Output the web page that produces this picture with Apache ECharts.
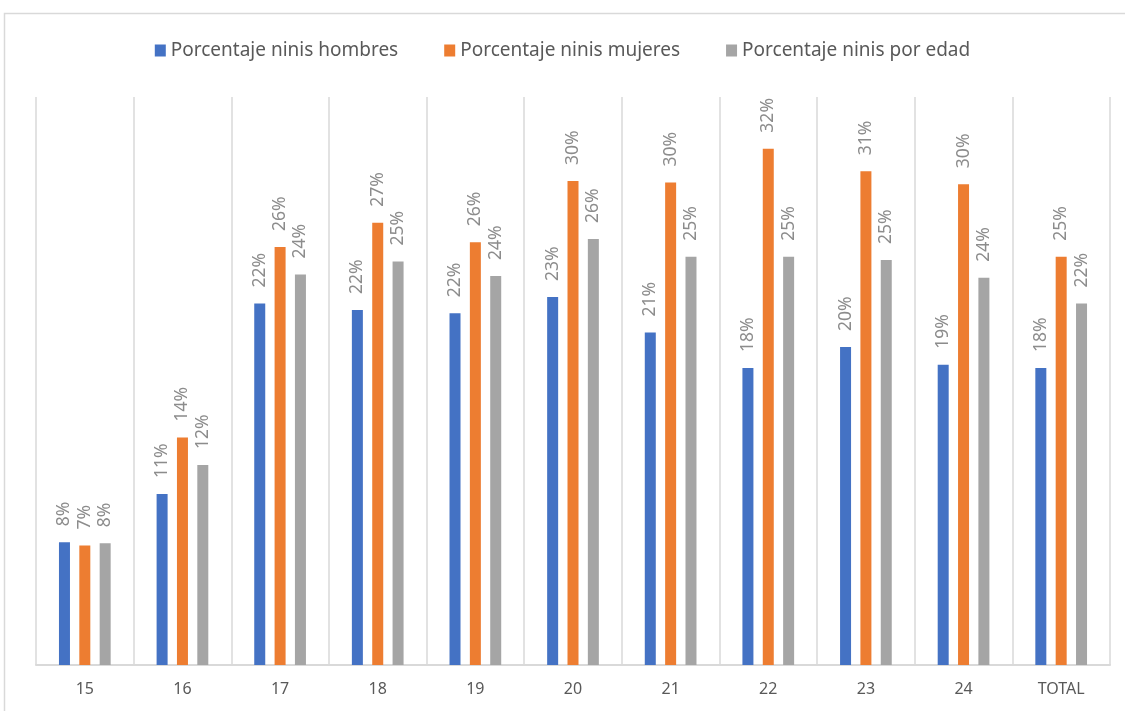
<!DOCTYPE html>
<html>
<head>
<meta charset="utf-8">
<script src="https://cdn.jsdelivr.net/npm/echarts@6/dist/echarts.min.js"></script>
<style>
html,body{margin:0;padding:0;background:#fff;}
#chart{width:1125px;height:711px;}
</style>
</head>
<body>
<div id="chart"></div>
<script>
// Data (percent)
var categories = ['15','16','17','18','19','20','21','22','23','24','TOTAL'];
var seriesNames = ['Porcentaje ninis hombres','Porcentaje ninis mujeres','Porcentaje ninis por edad'];
var hombres = [7.6, 10.6, 22.4, 22.0, 21.8, 22.8, 20.6, 18.4, 19.7, 18.6, 18.4];
var mujeres = [7.4, 14.1, 25.9, 27.4, 26.2, 30.0, 29.9, 32.0, 30.6, 29.8, 25.3];
var porEdad = [7.55, 12.4, 24.2, 25.0, 24.1, 26.4, 25.3, 25.3, 25.1, 24.0, 22.4];

var colors = ['#4472C4', '#ED7D31', '#A5A5A5'];
var FONT = 'Noto Sans';

function mkSeries(name, data, color) {
  return {
    name: name,
    type: 'bar',
    data: data,
    barWidth: 11,
    barGap: '85%',
    itemStyle: { color: color },
    label: {
      show: true,
      position: 'top',
      rotate: 90,
      align: 'left',
      verticalAlign: 'middle',
      distance: 16,
      color: '#8c8c8c',
      fontSize: 17.5,
      fontFamily: FONT,
      formatter: function (p) { return Math.round(p.value) + '%'; }
    }
  };
}

var chart = echarts.init(document.getElementById('chart'));
chart.setOption({
  animation: false,
  backgroundColor: '#fff',
  textStyle: { fontFamily: FONT },
  graphic: [{
    type: 'rect',
    shape: { x: 4.5, y: 13.5, width: 1200, height: 800 },
    style: { fill: 'none', stroke: '#d9d9d9', lineWidth: 1.5 },
    silent: true, z: -10
  }],
  legend: {
    top: 36,
    left: 'center',
    itemWidth: 11,
    itemHeight: 12,
    itemGap: 46,
    icon: 'rect',
    textStyle: { color: '#595959', fontSize: 19, fontFamily: FONT },
    data: seriesNames
  },
  grid: { left: 36, right: 15, top: 97, bottom: 46, containLabel: false },
  xAxis: {
    type: 'category',
    data: categories,
    axisLine: { show: true, lineStyle: { color: '#d9d9d9', width: 2 } },
    axisTick: { show: false },
    splitLine: { show: true, lineStyle: { color: '#d9d9d9', width: 1.5 } },
    axisLabel: { color: '#595959', fontSize: 16, fontFamily: FONT, margin: 16 }
  },
  yAxis: {
    type: 'value',
    min: 0,
    max: 35.2,
    show: false,
    splitLine: { show: false }
  },
  series: [
    mkSeries(seriesNames[0], hombres, colors[0]),
    mkSeries(seriesNames[1], mujeres, colors[1]),
    mkSeries(seriesNames[2], porEdad, colors[2])
  ]
});
</script>
</body>
</html>
